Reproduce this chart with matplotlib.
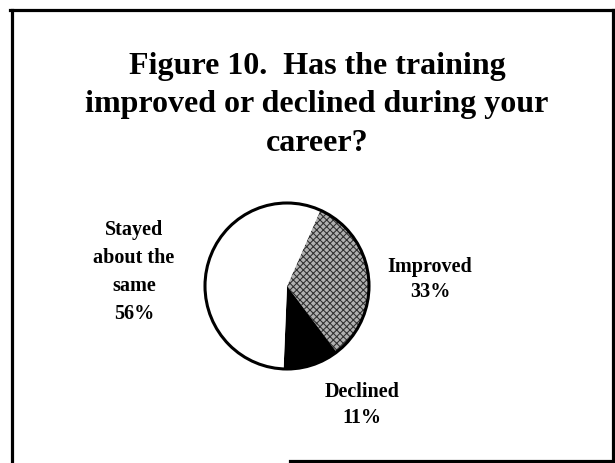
import matplotlib
matplotlib.use("Agg")
import matplotlib.pyplot as plt
from matplotlib.lines import Line2D
from matplotlib.patches import Ellipse

# ---- data ----
title_lines = ["Figure 10.  Has the training",
               "improved or declined during your",
               "career?"]
categories = ["Improved", "Declined", "Stayed about the same"]
values = [33, 11, 56]
label_lines = [["Improved", "33%"],
               ["Declined", "11%"],
               ["Stayed", "about the", "same", "56%"]]

W, H = 615, 464
plt.rcParams['hatch.linewidth'] = 0.75
fig = plt.figure(figsize=(W / 100, H / 100), dpi=100)
fig.patch.set_facecolor("white")


def fx(x):
    return x / W


def fy(y):
    return 1 - y / H


serif = ["Liberation Serif", "DejaVu Serif"]

# page border
for (x0, y0, x1, y1) in [(12, 11, 12, 464), (10, 11, 615, 11),
                         (612.5, 11, 612.5, 464), (290, 461.5, 615, 461.5)]:
    fig.add_artist(Line2D([fx(x0), fx(x1)], [fy(y0), fy(y1)],
                          transform=fig.transFigure, color="black", lw=2.3))

# title
title_baselines = [74, 112, 151]
for line, yb in zip(title_lines, title_baselines):
    fig.text(fx(317), fy(yb), line, ha="center", va="baseline",
             fontsize=23, fontweight="bold", family=serif)

# pie axes
cx, cy, rx, ry = 287, 287, 82, 83
ax = fig.add_axes([fx(cx - rx), fy(cy + ry), 2 * rx / W, 2 * ry / H])
wedges, _ = ax.pie(values, startangle=66, counterclock=False,
                   colors=["#b0b0b0", "black", "white"],
                   wedgeprops=dict(linewidth=0))
wedges[0].set_hatch("xxxxx")
wedges[0].set_edgecolor("#2e2e2e")
wedges[0].set_linewidth(0)
for w in wedges:
    w.set_clip_on(False)
ax.add_patch(Ellipse((0, 0), 2, 2, fill=False, edgecolor="black",
                     lw=2.2, clip_on=False))
ax.set_aspect("auto")
ax.set_xlim(-1, 1)
ax.set_ylim(-1, 1)
ax.axis("off")

# labels
label_pos = [(430, [272, 297]),
             (362, [397, 423]),
             (134, [235, 263, 291, 319])]
for lines, (xc, ybs) in zip(label_lines, label_pos):
    for line, yb in zip(lines, ybs):
        fig.text(fx(xc), fy(yb), line, ha="center", va="baseline",
                 fontsize=14.5, fontweight="bold", family=serif)

fig.savefig("out.png", dpi=100)
